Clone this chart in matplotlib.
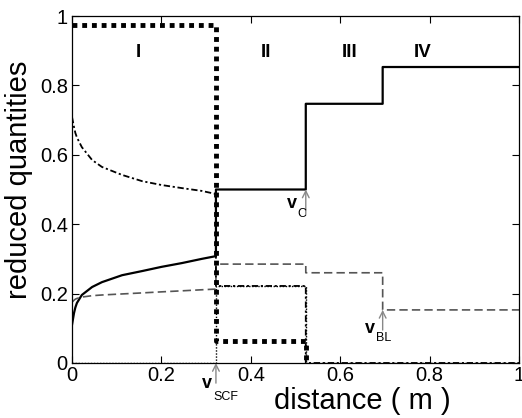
import matplotlib.pyplot as plt

plt.rcParams['font.family'] = ['Liberation Sans', 'DejaVu Sans']

# region I curves
x_curve = [0.0, 0.0045, 0.0075, 0.011, 0.022, 0.045, 0.067, 0.112, 0.157, 0.2, 0.246, 0.29, 0.322]
solid_curve = [0.11, 0.144, 0.16, 0.173, 0.196, 0.219, 0.233, 0.253, 0.265, 0.277, 0.288, 0.30, 0.308]
dashdot_curve = [0.709, 0.68, 0.663, 0.65, 0.622, 0.585, 0.565, 0.542, 0.524, 0.513, 0.504, 0.496, 0.487]
gray_curve = [0.175, 0.181, 0.184, 0.186, 0.19, 0.194, 0.196, 0.199, 0.202, 0.205, 0.208, 0.211, 0.213]

# step parts (boundaries v_SCF, v_C, v_BL)
x_steps = [0.322, 0.523, 0.523, 0.695, 0.695, 1.0]
solid_steps = [0.50, 0.50, 0.747, 0.747, 0.853, 0.853]
gray_steps = [0.285, 0.285, 0.26, 0.26, 0.153, 0.153]
dashdot_steps = [0.222, 0.222, 0.0, 0.0, 0.0, 0.0]

x_thick = [0.0, 0.322, 0.322, 0.523, 0.523]
thick_dotted = [0.975, 0.975, 0.063, 0.063, 0.0]
x_thin = [0.0, 0.322, 0.322, 0.523, 0.523, 1.0]
thin_dotted = [0.0, 0.0, 0.222, 0.222, 0.0, 0.0]

regions = ['I', 'II', 'III', 'IV']
region_x = [0.148, 0.434, 0.622, 0.785]

fig = plt.figure(figsize=(5.22, 4.18), dpi=100)
ax = fig.add_axes([72 / 522, 55 / 418, 447 / 522, 347 / 418])

ax.plot(x_curve + x_steps, solid_curve + solid_steps, color='black', lw=1.6)
ax.plot(x_curve + x_steps, gray_curve + gray_steps, color='#555555', lw=1.2,
        dashes=(5, 2.5))
ax.plot(x_curve + x_steps, dashdot_curve + dashdot_steps, color='black', lw=1.3,
        dashes=(3.5, 1.5, 1.2, 1.5))
ax.plot(x_thin, thin_dotted, color='black', lw=1.0, dashes=(1, 1.2))
ax.plot(x_thick, thick_dotted, color='black', lw=3.5, dashes=(1, 1))

for r, xr in zip(regions, region_x):
    ax.text(xr, 0.896, r, fontsize=13.5, fontweight='bold', ha='center', va='center')

arrow = dict(arrowstyle='->', color='#888888', lw=1.0, shrinkA=0, shrinkB=0,
             mutation_scale=12)
# v_SCF
ax.annotate('', xy=(0.322, 0.0), xytext=(0.322, -0.058), arrowprops=arrow,
            annotation_clip=False)
ax.text(0.302, -0.06, 'v', fontsize=13, fontweight='bold', ha='center', va='center',
        clip_on=False)
ax.text(0.345, -0.098, 'SCF', fontsize=9, ha='center', va='center', clip_on=False)
# v_C
ax.annotate('', xy=(0.523, 0.50), xytext=(0.523, 0.43), arrowprops=arrow)
ax.text(0.492, 0.46, 'v', fontsize=13, fontweight='bold', ha='center', va='center')
ax.text(0.514, 0.43, 'C', fontsize=9, ha='center', va='center')
# v_BL
ax.annotate('', xy=(0.695, 0.153), xytext=(0.695, 0.095), arrowprops=arrow)
ax.text(0.667, 0.10, 'v', fontsize=13, fontweight='bold', ha='center', va='center')
ax.text(0.698, 0.072, 'BL', fontsize=9, ha='center', va='center')

ax.set_xlim(0, 1)
ax.set_ylim(0, 1)
ax.set_xticks([0, 0.2, 0.4, 0.6, 0.8, 1])
ax.set_xticklabels(['0', '0.2', '0.4', '0.6', '0.8', '1'])
ax.set_yticks([0, 0.2, 0.4, 0.6, 0.8, 1])
ax.set_yticklabels(['0', '0.2', '0.4', '0.6', '0.8', '1'])
ax.tick_params(direction='in', length=5, width=0.8, top=True, right=True,
               labelsize=14.5, pad=3)
ax.tick_params(axis='x', pad=2)
for s in ax.spines.values():
    s.set_linewidth(0.9)

fig.text(362 / 522, 1 - 401 / 418, 'distance ( m )', fontsize=21, ha='center', va='center')
fig.text(19 / 522, 1 - 180 / 418, 'reduced quantities', fontsize=21, rotation=90,
         ha='center', va='center')

fig.savefig('out.png', dpi=100)
